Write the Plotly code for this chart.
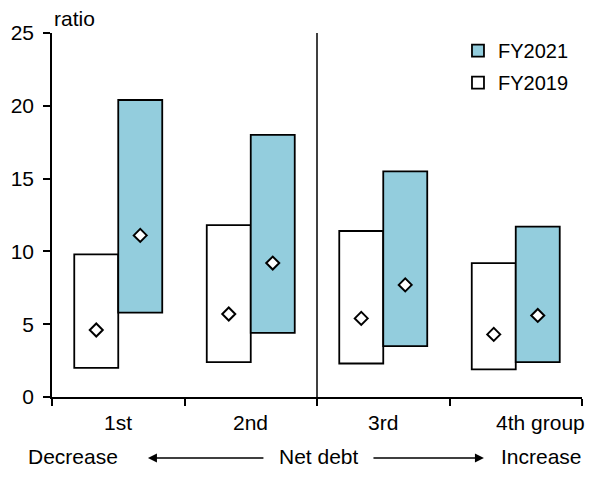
import plotly.graph_objects as go

groups = ["1st", "2nd", "3rd", "4th group"]
fy2019_low = [2.0, 2.4, 2.3, 1.9]
fy2019_high = [9.8, 11.8, 11.4, 9.2]
fy2019_mid = [4.6, 5.7, 5.4, 4.3]
fy2021_low = [5.8, 4.4, 3.5, 2.4]
fy2021_high = [20.4, 18.0, 15.5, 11.7]
fy2021_mid = [11.1, 9.2, 7.7, 5.6]

FONT = "Liberation Sans, Arial, sans-serif"
FS = 21
BLUE = "#93CDDD"
W = 0.332

idx = list(range(len(groups)))

fig = go.Figure()
fig.add_trace(go.Bar(
    x=idx, y=[h - l for h, l in zip(fy2019_high, fy2019_low)], base=fy2019_low,
    width=W, offset=-W, name="FY2019", legendgroup="b", legendrank=2,
    marker=dict(color="white", line=dict(color="black", width=1.8)),
))
fig.add_trace(go.Bar(
    x=idx, y=[h - l for h, l in zip(fy2021_high, fy2021_low)], base=fy2021_low,
    width=W, offset=0, name="FY2021", legendgroup="a", legendrank=1,
    marker=dict(color=BLUE, line=dict(color="black", width=1.8)),
))
fig.add_trace(go.Scatter(
    x=[i - W / 2 for i in idx], y=fy2019_mid, mode="markers", showlegend=False,
    marker=dict(symbol="diamond", size=10, color="white", line=dict(color="black", width=2)),
))
fig.add_trace(go.Scatter(
    x=[i + W / 2 for i in idx], y=fy2021_mid, mode="markers", showlegend=False,
    marker=dict(symbol="diamond", size=10, color="white", line=dict(color="black", width=2)),
))

# divider between 2nd and 3rd groups
fig.add_shape(type="line", xref="x", yref="y", x0=1.5, x1=1.5, y0=0, y1=25,
              line=dict(color="black", width=1.5))

anns = []
for i, g in enumerate(groups):
    if i < 3:
        anns.append(dict(x=i, y=-0.069, xref="x", yref="paper", text=g, showarrow=False,
                         xanchor="center", yanchor="middle", font=dict(size=FS)))
    else:
        anns.append(dict(x=i, y=-0.069, xref="x", yref="paper", text=g, showarrow=False,
                         xanchor="left", xshift=-22, yanchor="middle", font=dict(size=FS)))

BY = -0.162
AY = -0.1676
anns += [
    dict(x=0.0, y=1.041, xref="paper", yref="paper", text="ratio", showarrow=False,
         xanchor="left", yanchor="middle", font=dict(size=FS)),
    dict(x=0.04, y=BY, xref="paper", yref="paper", text="Decrease", showarrow=False,
         xanchor="center", yanchor="middle", height=20, font=dict(size=FS)),
    dict(x=0.504, y=BY, xref="paper", yref="paper", text="Net debt", showarrow=False,
         xanchor="center", yanchor="middle", height=20, font=dict(size=FS)),
    dict(x=0.923, y=BY, xref="paper", yref="paper", text="Increase", showarrow=False,
         xanchor="center", yanchor="middle", height=20, font=dict(size=FS)),
    dict(x=0.181, y=AY, ax=117, ay=0, xref="paper", yref="paper",
         axref="pixel", ayref="pixel", text="", showarrow=True, arrowhead=2,
         arrowsize=1.2, arrowwidth=1.5, arrowcolor="black"),
    dict(x=0.815, y=AY, ax=-112, ay=0, xref="paper", yref="paper",
         axref="pixel", ayref="pixel", text="", showarrow=True, arrowhead=2,
         arrowsize=1.2, arrowwidth=1.5, arrowcolor="black"),
]

fig.update_layout(
    width=585, height=459,
    margin=dict(l=44, r=11, t=25, b=70),
    paper_bgcolor="white", plot_bgcolor="white",
    font=dict(family=FONT, size=FS, color="black"),
    barmode="overlay",
    showlegend=True,
    legend=dict(x=0.766, y=1.005, xanchor="left", yanchor="top",
                traceorder="grouped", tracegroupgap=3, itemwidth=30,
                bgcolor="rgba(0,0,0,0)", font=dict(size=20)),
    annotations=anns,
    xaxis=dict(range=[-0.5, 3.5], tickvals=[-0.5, 0.5, 1.5, 2.5, 3.5], ticktext=[""] * 5,
               ticks="outside", ticklen=7, tickcolor="black", tickwidth=1.5,
               showline=True, linecolor="black", linewidth=1.5, automargin=False,
               showgrid=False, zeroline=False, fixedrange=True),
    yaxis=dict(range=[0, 25], tickvals=[0, 5, 10, 15, 20, 25],
               ticks="outside", ticklen=7, tickcolor="black", tickwidth=1.5,
               showline=True, linecolor="black", linewidth=1.5, ticklabelstandoff=5,
               automargin=False,
               showgrid=False, zeroline=False, fixedrange=True),
)

fig.write_html("out.html")
